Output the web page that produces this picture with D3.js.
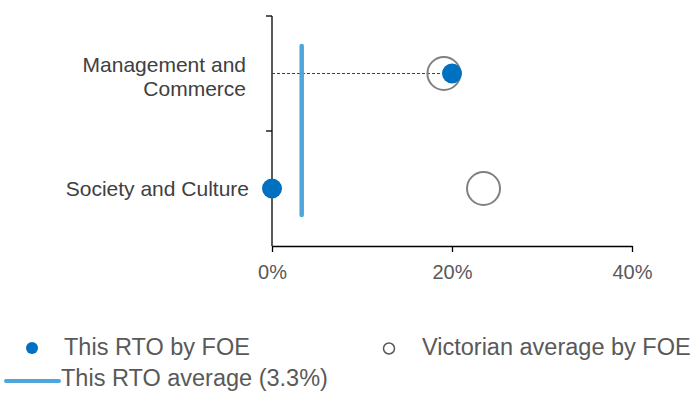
<!DOCTYPE html>
<html lang="en">
<head>
  <meta charset="UTF-8">
  <title>This RTO vs Victorian average by FOE</title>
  <script src="https://d3js.org/d3.v7.min.js"></script>
  <style>
    body { margin: 0; background: #fff; }
    svg text { font-family: "Liberation Sans", Arial, sans-serif; }
  </style>
</head>
<body>
  <div id="chart"></div>

  <script>
    // Data
    const categories = ["Management and Commerce", "Society and Culture"];
    const rtoValues = [20.0, 0.0];        // This RTO by FOE (%)
    const vicValues = [19.1, 23.5];       // Victorian average by FOE (%)
    const rtoAverage = 3.3;               // This RTO average (%)
    const xTicks = [0, 20, 40];

    const width = 696, height = 394;
    const margin = { top: 16, left: 272 };
    const innerW = 360;   // 0% .. 40%
    const innerH = 230;

    const svg = d3.select("#chart")
      .append("svg")
      .attr("width", width)
      .attr("height", height);

    const g = svg.append("g")
      .attr("transform", "translate(" + margin.left + "," + margin.top + ")");

    const x = d3.scaleLinear().domain([0, 40]).range([0, innerW]);
    const y = d3.scaleBand().domain(categories).range([0, innerH]);
    const cy = d => y(d) + y.bandwidth() / 2;

    // x axis
    const xAxis = g.append("g")
      .attr("transform", "translate(0," + innerH + ")")
      .call(d3.axisBottom(x).tickValues(xTicks).tickFormat(d => d + "%")
        .tickSizeInner(6).tickSizeOuter(0).tickPadding(13));
    xAxis.selectAll("line, path").attr("stroke", "#000").attr("stroke-width", 1.3);
    xAxis.selectAll("text")
      .attr("font-size", 20)
      .attr("fill", "#595959")
      .attr("font-family", "Liberation Sans, Arial, sans-serif");

    // y axis, ticks at band boundaries
    g.append("line")
      .attr("x1", 0).attr("x2", 0)
      .attr("y1", 0).attr("y2", innerH)
      .attr("stroke", "#000").attr("stroke-width", 1.3);
    g.selectAll(".ytick")
      .data(categories.map(c => y(c)))
      .enter().append("line")
      .attr("x1", -6).attr("x2", 0)
      .attr("y1", d => d).attr("y2", d => d)
      .attr("stroke", "#000").attr("stroke-width", 1.3);

    // category labels
    const labelLines = [["Management and", "Commerce"], ["Society and Culture"]];
    categories.forEach((c, i) => {
      const lines = labelLines[i];
      const t = g.append("text")
        .attr("text-anchor", "end")
        .attr("font-size", 21)
        .attr("fill", "#404040");
      lines.forEach((ln, j) => {
        t.append("tspan")
          .attr("x", lines.length > 1 ? -26 : -23)
          .attr("y", cy(c) + (lines.length > 1 ? 3 : 0) + (j - (lines.length - 1) / 2) * 23.5)
          .attr("dy", "0.35em")
          .text(ln);
      });
    });

    // dashed guide line for first category
    g.append("line")
      .attr("x1", 0)
      .attr("x2", x(rtoValues[0]))
      .attr("y1", cy(categories[0]))
      .attr("y2", cy(categories[0]))
      .attr("stroke", "#404040")
      .attr("stroke-width", 1)
      .attr("stroke-dasharray", "3,2");

    // RTO average line
    g.append("line")
      .attr("x1", x(rtoAverage)).attr("x2", x(rtoAverage))
      .attr("y1", 30).attr("y2", 199)
      .attr("stroke", "#4EA6DC")
      .attr("stroke-width", 4.5)
      .attr("stroke-linecap", "round");

    // Victorian average (hollow circles)
    g.selectAll(".vic")
      .data(categories)
      .enter().append("circle")
      .attr("cx", (d, i) => x(vicValues[i]))
      .attr("cy", cy)
      .attr("r", 16.5)
      .attr("fill", "none")
      .attr("stroke", "#808080")
      .attr("stroke-width", 2);

    // This RTO (filled circles)
    g.selectAll(".rto")
      .data(categories)
      .enter().append("circle")
      .attr("cx", (d, i) => x(rtoValues[i]))
      .attr("cy", cy)
      .attr("r", 10)
      .attr("fill", "#0070C0");

    // Legend
    const legend = svg.append("g").attr("font-size", 23.5).attr("fill", "#595959");
    legend.append("circle").attr("cx", 32).attr("cy", 348).attr("r", 6).attr("fill", "#0070C0");
    legend.append("text").attr("x", 64).attr("y", 355).text("This RTO by FOE");
    legend.append("circle").attr("cx", 389).attr("cy", 348.5).attr("r", 5.5)
      .attr("fill", "none").attr("stroke", "#595959").attr("stroke-width", 1.5);
    legend.append("text").attr("x", 422).attr("y", 355).text("Victorian average by FOE");
    legend.append("line").attr("x1", 6).attr("x2", 59).attr("y1", 381).attr("y2", 381)
      .attr("stroke", "#4EA6DC").attr("stroke-width", 4).attr("stroke-linecap", "round");
    legend.append("text").attr("x", 61).attr("y", 386).text("This RTO average (3.3%)");
  </script>
</body>
</html>
